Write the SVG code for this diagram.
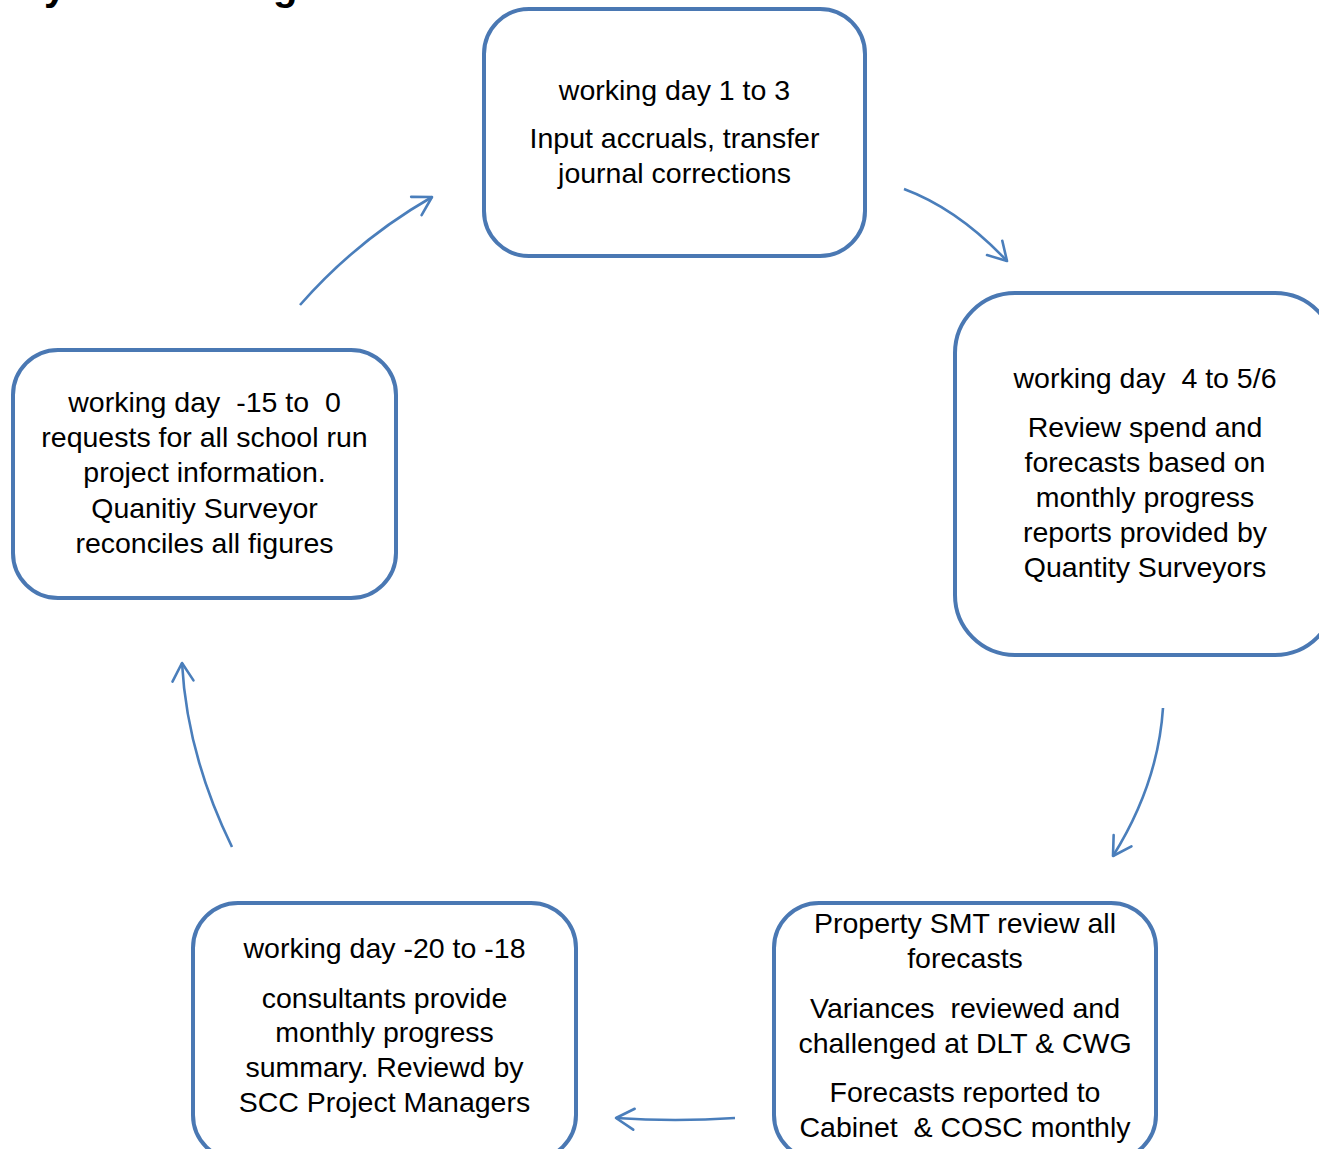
<svg xmlns="http://www.w3.org/2000/svg" width="1319" height="1149" viewBox="0 0 1319 1149">
<defs>
<style>
.box{fill:#ffffff;stroke:#4A78B3;stroke-width:4}
.t{font-family:"Liberation Sans",Arial,sans-serif;font-size:28.5px;fill:#000;text-anchor:middle;white-space:pre}
.title{font-family:"Liberation Sans",Arial,sans-serif;font-size:40px;font-weight:bold;fill:#000}
.arr{fill:none;stroke:#4A7EBB;stroke-width:2.6;marker-end:url(#ah)}
</style>
<marker id="ah" markerUnits="userSpaceOnUse" markerWidth="30" markerHeight="30" viewBox="-22 -15 26 30" refX="0" refY="0" orient="auto">
<path d="M-18,-10.5 L0,0 L-18,10.5" fill="none" stroke="#4A7EBB" stroke-width="2.6" stroke-linecap="round" stroke-linejoin="round"/>
</marker>
</defs>
<rect width="1319" height="1149" fill="#ffffff"/>
<g id="title">
<text class="title" x="44" y="0">y</text>
<text class="title" x="273" y="0">g</text>
</g>
<g id="connectors">
<path class="arr" d="M300,305 Q357,240 432,197"/>
<path class="arr" d="M904,189 Q958,209 1007,261"/>
<path class="arr" d="M1163,708 Q1158,784 1113,856"/>
<path class="arr" d="M735,1118 Q675,1122 616,1118"/>
<path class="arr" d="M232,847 Q187,755 182,663"/>
</g>
<g id="node-day1-3">
<rect class="box" x="484" y="9" width="381" height="247" rx="45"/>
<text class="t" x="674.5" y="100">working day 1 to 3</text>
<text class="t" x="674.5" y="148">Input accruals, transfer</text>
<text class="t" x="674.5" y="183">journal corrections</text>
</g>
<g id="node-day4-6">
<rect class="box" x="955" y="293" width="380" height="362" rx="60"/>
<text class="t" x="1145" y="388">working day  4 to 5/6</text>
<text class="t" x="1145" y="437">Review spend and</text>
<text class="t" x="1145" y="472">forecasts based on</text>
<text class="t" x="1145" y="507">monthly progress</text>
<text class="t" x="1145" y="542">reports provided by</text>
<text class="t" x="1145" y="577">Quantity Surveyors</text>
</g>
<g id="node-smt">
<rect class="box" x="774" y="903" width="382" height="257" rx="45"/>
<text class="t" x="965" y="933">Property SMT review all</text>
<text class="t" x="965" y="968">forecasts</text>
<text class="t" x="965" y="1018">Variances  reviewed and</text>
<text class="t" x="965" y="1053">challenged at DLT &amp; CWG</text>
<text class="t" x="965" y="1102">Forecasts reported to</text>
<text class="t" x="965" y="1137">Cabinet  &amp; COSC monthly</text>
</g>
<g id="node-day-20">
<rect class="box" x="193" y="903" width="383" height="257" rx="45"/>
<text class="t" x="384.5" y="958">working day -20 to -18</text>
<text class="t" x="384.5" y="1008">consultants provide</text>
<text class="t" x="384.5" y="1042">monthly progress</text>
<text class="t" x="384.5" y="1077">summary. Reviewd by</text>
<text class="t" x="384.5" y="1112">SCC Project Managers</text>
</g>
<g id="node-day-15">
<rect class="box" x="13" y="350" width="383" height="248" rx="45"/>
<text class="t" x="204.5" y="412">working day  -15 to  0</text>
<text class="t" x="204.5" y="447">requests for all school run</text>
<text class="t" x="204.5" y="482">project information.</text>
<text class="t" x="204.5" y="518">Quanitiy Surveyor</text>
<text class="t" x="204.5" y="553">reconciles all figures</text>
</g>
</svg>
